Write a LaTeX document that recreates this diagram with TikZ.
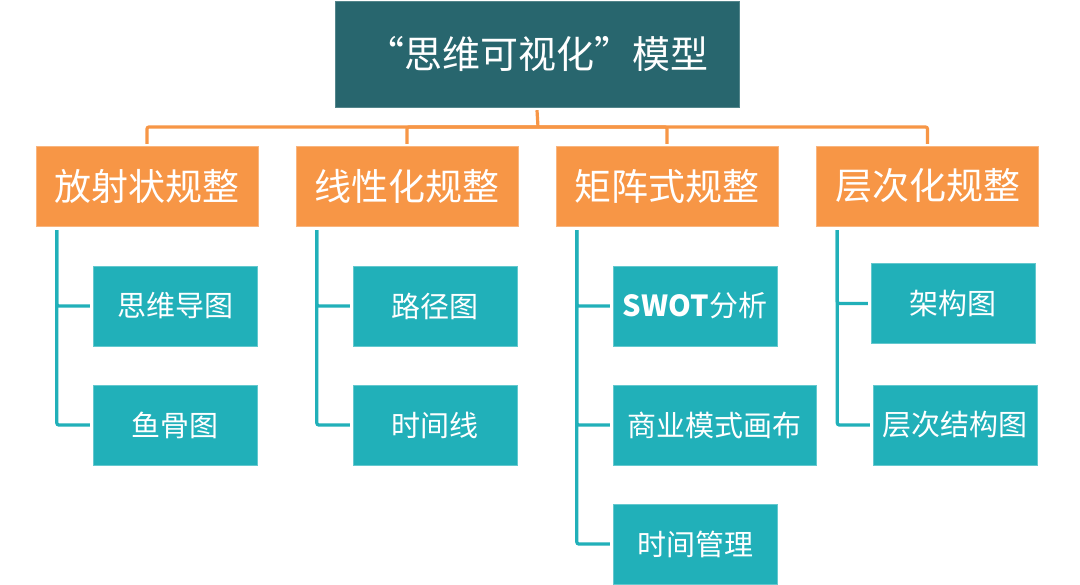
\documentclass[tikz,border=0pt]{standalone}
\usepackage{fontspec}
\setmainfont{Noto Sans CJK SC}
\usepackage{tikz}
\usetikzlibrary{calc}
\usepackage{xcolor}
\definecolor{topfill}{HTML}{28666E}
\definecolor{catfill}{HTML}{F79646}
\definecolor{itemfill}{HTML}{21B0B9}
\tikzset{
  every node/.style={text=white,inner sep=0pt,align=center},
  topbox/.style={fill=topfill,draw=topfill!80!white,minimum width=404,minimum height=106,font=\fontsize{38}{40}\selectfont},
  catbox/.style={fill=catfill,draw=catfill!70!white,minimum width=222,minimum height=80,font=\fontsize{37}{40}\selectfont},
  itembox/.style={fill=itemfill,draw=itemfill!70!white,minimum width=164,minimum height=80,font=\fontsize{29}{32}\selectfont},
  orgline/.style={draw=catfill,line width=3.2,rounded corners=2},
  tealline/.style={draw=itemfill,line width=3.2,rounded corners=2,shorten >=3},
}

\begin{document}
\begin{tikzpicture}[x=1pt,y=-1pt]
\useasboundingbox[fill=white] (0,0) rectangle (1080,585);

\node[topbox] (model) at (537,54) {“思维可视化”模型};

% categories
\node[catbox] (radial) at (147,186) {放射状规整};
\node[catbox] (linear) at (407,186) {线性化规整};
\node[catbox] (matrix) at (667,186) {矩阵式规整};
\node[catbox] (layer) at (927.5,186) {层次化规整};

\coordinate (bus) at (538,127);
\draw[orgline] ([yshift=-3]model.south) -- (bus);
\foreach \c in {radial,linear,matrix,layer}
  \draw[orgline] (bus) -| ([yshift=2]\c.north);

% items
\node[itembox] (mindmap) at (175,306) {思维导图};
\node[itembox] (fishbone) at (175,425) {鱼骨图};
\node[itembox] (path) at (435,306) {路径图};
\node[itembox] (timeline) at (435,425) {时间线};
\node[itembox] (swot) at (695,306) {\textbf{SWOT}分析};
\node[itembox,minimum width=203] (canvas) at (714.5,425) {商业模式画布};
\node[itembox] (timemgmt) at (695,544) {时间管理};
\node[itembox] (arch) at (953,303.5) {架构图};
\node[itembox] (hier) at (955,425) {层次结构图};

\foreach \c/\i in {radial/mindmap,radial/fishbone,linear/path,linear/timeline,
                   matrix/swot,matrix/canvas,matrix/timemgmt,layer/arch,layer/hier}
  \draw[tealline] ([xshift=21,yshift=-4]\c.south west) |- (\i.west);

\end{tikzpicture}
\end{document}
